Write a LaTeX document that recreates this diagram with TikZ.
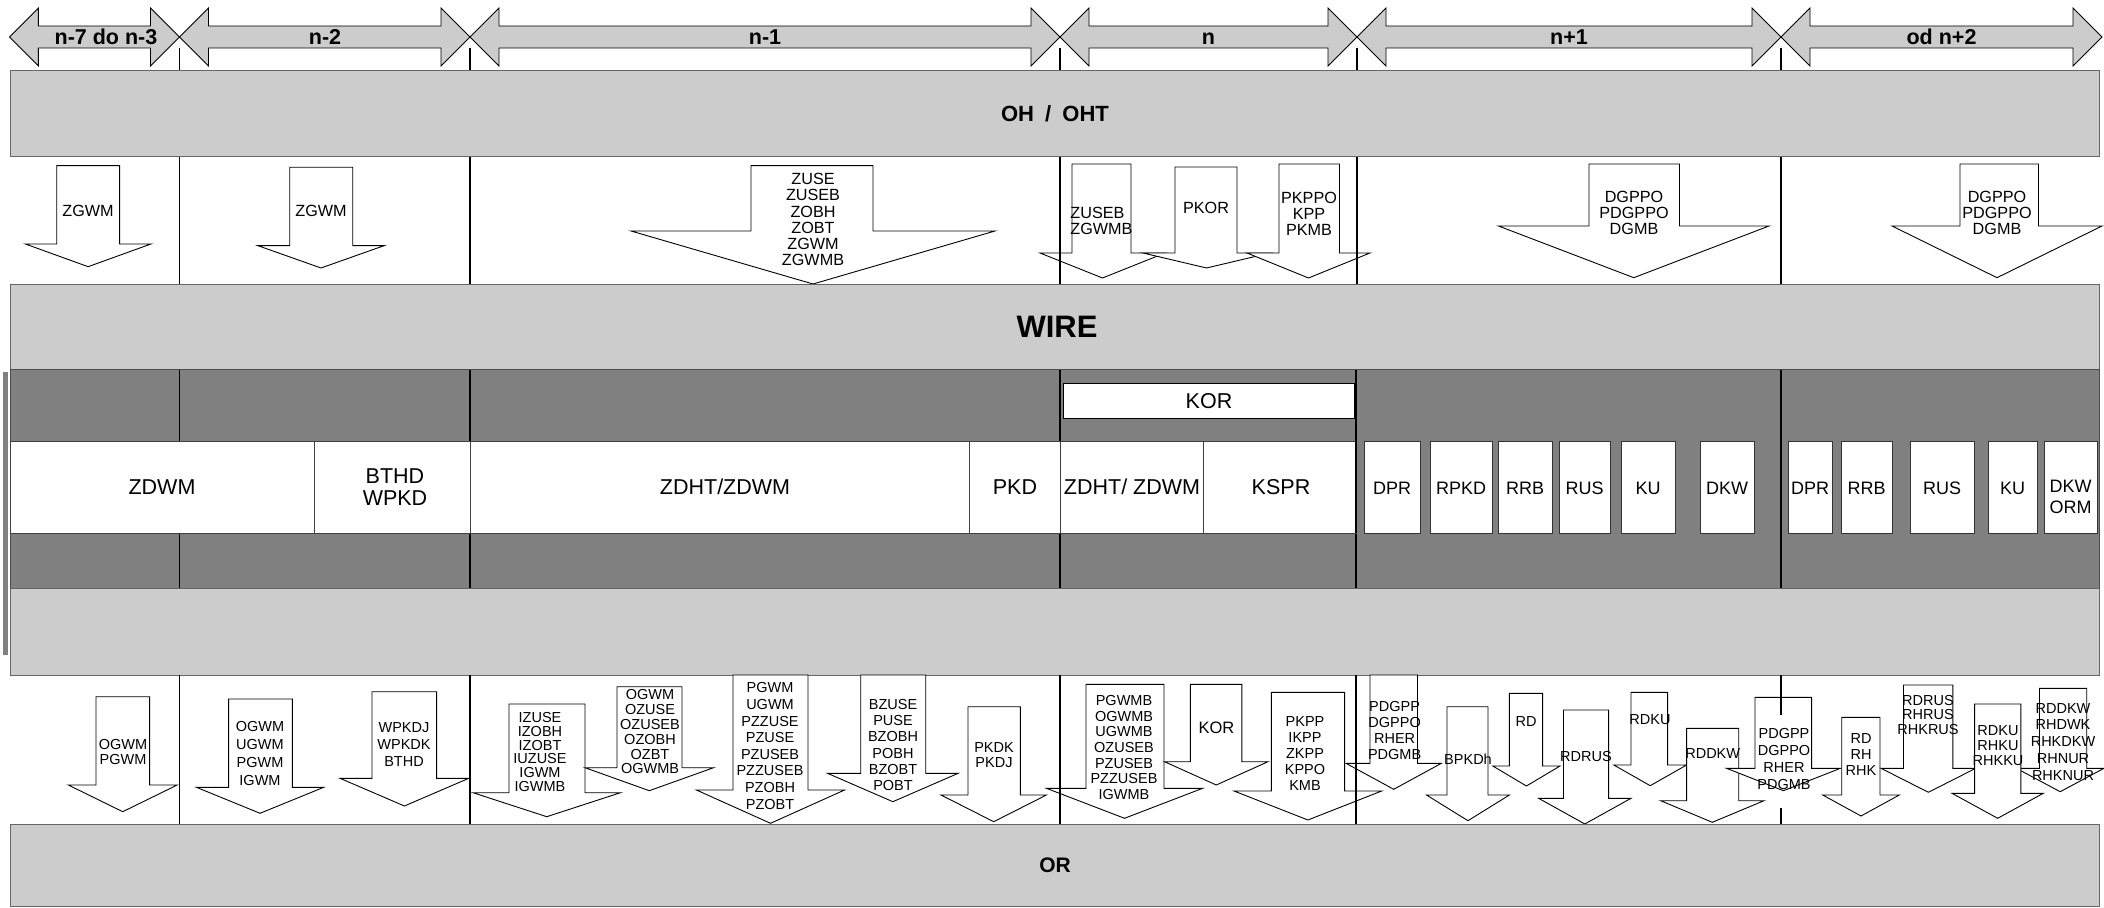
\documentclass[tikz,border=0pt]{standalone}
\usepackage{fontspec}
\setmainfont{Liberation Sans}
\begin{document}
\definecolor{lg}{HTML}{CCCCCC}
\definecolor{dg}{HTML}{808080}
\newcommand\dnarr[8]{\draw[#1] (#2,#4) -- (#3,#4) -- (#3,#5) -- (#7,#5) -- ({(#6+#7)/2},#8) -- (#6,#5) -- (#2,#5) -- cycle;}
\newcommand\lrarr[2]{\draw[tarrow] (#1,37) -- ({#1+29},8) -- ({#1+29},26) -- ({#2-29},26) -- ({#2-29},8) -- (#2,37) -- ({#2-29},66) -- ({#2-29},48) -- ({#1+29},48) -- ({#1+29},66) -- cycle;}
\begin{tikzpicture}[x=0.5pt,y=-0.5pt,
 band/.style={fill=lg,draw=black!60,line width=0.5pt},
 tarrow/.style={fill=lg,draw=black,line width=0.45pt},
 darrow/.style={fill=white,draw=black,line width=0.45pt},
 divl/.style={draw=black,line width=0.6pt},
 cellb/.style={fill=white,draw=black!75,line width=0.4pt},
 blab/.style={font=\bfseries\fontsize{10.75}{12}\selectfont,inner sep=0pt,anchor=base},
 txtop/.style={font=\fontsize{8.1}{#1}\selectfont,align=center,inner sep=0pt},
 txtop/.default=8,
 txbot/.style={font=\fontsize{7.25}{#1}\selectfont,align=center,inner sep=0pt},
 txbot/.default=7.5,
 txmid/.style={font=\fontsize{10.75}{11}\selectfont,align=center,inner sep=0pt},
 txsm/.style={font=\fontsize{9}{10.8}\selectfont,align=center,inner sep=0pt}]
\useasboundingbox (0,0) rectangle (2104,908);
\fill[white] (0,0) rectangle (2104,908);
% top double arrows
\lrarr{9.4}{179.5}
\lrarr{179.5}{470}
\lrarr{470}{1060}
\lrarr{1060}{1357}
\lrarr{1357}{1781}
\lrarr{1781}{2102}
\node[blab] (l1) at (106,44.5) {n-7 do n-3};
\node[blab] (l2) at (325,44.5) {n-2};
\node[blab] (l3) at (765,44.5) {n-1};
\node[blab] (l4) at (1208.5,44.5) {n};
\node[blab] (l5) at (1569,44.5) {n+1};
\node[blab] (l6) at (1941.5,44.5) {od n+2};
\foreach \x in {179.5,470,1060,1357,1781} \draw[divl] (\x,48) -- (\x,71);
% OH band
\draw[band] (10,71) rectangle (2099,157);
\node[font=\bfseries\fontsize{11}{12}\selectfont,inner sep=0pt] (oh) at (1055,114) {OH\hspace{2.5pt} / \hspace{2.5pt}OHT};
% top down arrows
\dnarr{darrow}{56.7}{119.6}{165.7}{244}{25.4}{150.9}{266.7}
\dnarr{darrow}{289.7}{352.7}{167.3}{245.7}{258}{384}{268}
\dnarr{darrow}{751}{873}{165.7}{231}{631}{995}{284}
\dnarr{darrow}{1072}{1131}{164}{253}{1040}{1165}{278}
\dnarr{darrow}{1175}{1237}{167}{253}{1143}{1270}{268}
\dnarr{darrow}{1279}{1339.5}{164}{253}{1247}{1370}{278}
\dnarr{darrow}{1589}{1679.5}{164}{226}{1498.5}{1769}{277.7}
\dnarr{darrow}{1960}{2038.5}{164}{226}{1892}{2102}{277.7}
\foreach \x in {179.5,470,1060,1357,1781} \draw[divl] (\x,157) -- (\x,285);
\node[txtop] (t1) at (88,211) {ZGWM};
\node[txtop] (t2) at (321,211) {ZGWM};
\node[txtop=8.1] (t3) at (813,219.7) {ZUSE\\ZUSEB\\ZOBH\\ZOBT\\ZGWM\\ZGWMB};
\node[txtop=8.1,align=left,anchor=west] (t4) at (1070,221) {ZUSEB\\ZGWMB};
\node[txtop] (t5) at (1206,208) {PKOR};
\node[txtop] (t6) at (1309,213.4) {PKPPO\\KPP\\PKMB};
\node[txtop] (t7) at (1634,213.2) {DGPPO\\PDGPPO\\DGMB};
\node[txtop] (t8) at (1997,213.2) {DGPPO\\PDGPPO\\DGMB};
% WIRE band
\draw[band] (10,285) rectangle (2099,370);
\node[font=\bfseries\fontsize{15.5}{18}\selectfont,inner sep=0pt] (wire) at (1057,327) {WIRE};
% dark band
\draw[fill=dg,draw=black!70,line width=0.5pt] (10,370) rectangle (2099,589);
\fill[dg] (3,372) rectangle (8,655);
\foreach \x in {179.5,470,1060,1356,1781} \draw[divl] (\x,370) -- (\x,589);
\draw[cellb] (10,441) rectangle (1356,533);
\foreach \x in {314,470,969,1060,1203} \draw[black!75,line width=0.4pt] (\x,441) -- (\x,533);
\draw[divl] (1356,441) -- (1356,533);
\node[txmid] (c1) at (162,487) {ZDWM};
\node[txmid] (c2) at (395,487) {BTHD\\WPKD};
\node[txmid] (c3) at (725,487) {ZDHT/ZDWM};
\node[txmid] (c4) at (1015,487) {PKD};
\node[txmid] (c5) at (1132,487) {ZDHT/ ZDWM};
\node[txmid] (c6) at (1281,487) {KSPR};
\draw[fill=white,draw=black,line width=0.5pt] (1063,384) rectangle (1354,419);
\node[txmid] (kor) at (1209,401.5) {KOR};
% right boxes
\foreach \a/\b/\t/\n in {1364/1420/DPR/r1,1430/1492/RPKD/r2,1498/1552/RRB/r3,1559/1610/RUS/r4,1621/1675/KU/r5,1700/1754/DKW/r6,1788/1832/DPR/r7,1841/1892/RRB/r8,1910/1974/RUS/r9,1988/2037/KU/r10}{
  \draw[cellb,draw=black!80] (\a,441) rectangle (\b,533);
  \node[txsm] (\n) at ({(\a+\b)/2},488) {\t};
}
\draw[cellb,draw=black!80] (2044,441) rectangle (2097,533);
\node[txsm] (r11) at (2070.5,497) {DKW\\ORM};
% light band
\draw[band] (10,589) rectangle (2099,675);
% bottom arrows
\dnarr{darrow}{96}{149.6}{696.7}{785}{68.3}{177.2}{811.7}
\dnarr{darrow}{228.6}{292.4}{699}{787.3}{196.4}{323.7}{813.3}
\dnarr{darrow}{372}{436.6}{691.7}{778.3}{340}{468.8}{806}
\dnarr{darrow}{509}{585}{704}{792.7}{473}{620.5}{816.7}
\dnarr{darrow}{617}{682}{686.7}{767.7}{585}{713.6}{790.7}
\dnarr{darrow}{733}{808}{675}{790}{696.4}{844.6}{823.3}
\dnarr{darrow}{860.7}{925.7}{675}{773.3}{827.5}{958.2}{801.7}
\dnarr{darrow}{968}{1020.4}{706.7}{795}{941}{1046.4}{821.7}
\dnarr{darrow}{1086}{1164}{684.3}{788.3}{1046.4}{1202.6}{818.3}
\dnarr{darrow}{1190.3}{1241.8}{684.3}{761.7}{1164.5}{1268}{785}
\dnarr{darrow}{1271.3}{1344.6}{692.3}{791}{1234}{1381.7}{820}
\dnarr{darrow}{1370}{1417.5}{675}{763.3}{1346}{1441.4}{789.3}
\dnarr{darrow}{1447}{1488}{706.7}{795}{1426.5}{1509.4}{820.7}
\dnarr{darrow}{1509.4}{1542.6}{693.3}{766}{1492.8}{1560}{786}
\dnarr{darrow}{1563.5}{1608.6}{710}{798.3}{1538.6}{1631}{824}
\dnarr{darrow}{1631}{1667.6}{692.3}{765}{1613.8}{1686.6}{785.7}
\dnarr{darrow}{1686.6}{1738.7}{728.3}{800.7}{1660.6}{1764}{822.3}
\dnarr{darrow}{1755}{1811.6}{697.3}{768.3}{1726.5}{1840.4}{790.7}
\dnarr{darrow}{1841.7}{1880}{717.3}{795}{1822.7}{1899.3}{816}
\dnarr{darrow}{1903.5}{1952.8}{685}{768.3}{1881}{1975.7}{792.3}
\dnarr{darrow}{2039.5}{2086.7}{688.3}{768.3}{2016.3}{2104}{791.7}
\dnarr{darrow}{1974.6}{2020.8}{704}{793.3}{1952}{2043.3}{818.3}
\foreach \x in {179.5,470,1060,1356} \draw[divl] (\x,675) -- (\x,824);
\draw[divl] (1781,675) -- (1781,715);
\draw[divl] (1781,808) -- (1781,824);
\node[txbot=7.5] (b1) at (123,752) {OGWM\\PGWM};
\node[txbot=9] (b2) at (260,753.5) {OGWM\\UGWM\\PGWM\\IGWM};
\node[txbot=8.5] (b3) at (404,745) {WPKDJ\\WPKDK\\BTHD};
\node[txbot=6.9] (b4) at (540,752) {IZUSE\\IZOBH\\IZOBT\\IUZUSE\\IGWM\\IGWMB};
\node[txbot=7.4] (b5) at (650,732) {OGWM\\OZUSE\\OZUSEB\\OZOBH\\OZBT\\OGWMB};
\node[txbot=8.3] (b6) at (770,746) {PGWM\\UGWM\\PZZUSE\\PZUSE\\PZUSEB\\PZZUSEB\\PZOBH\\PZOBT};
\node[txbot=8.15] (b7) at (893,745) {BZUSE\\PUSE\\BZOBH\\POBH\\BZOBT\\POBT};
\node[txbot=7.75] (b8) at (994,755) {PKDK\\PKDJ};
\node[txbot=7.8] (b9) at (1124,747.5) {PGWMB\\OGWMB\\UGWMB\\OZUSEB\\PZUSEB\\PZZUSEB\\IGWMB};
\node[font=\fontsize{8.25}{9}\selectfont,inner sep=0pt] (b10) at (1216.5,727.7) {KOR};
\node[txbot=8] (b11) at (1305,754) {PKPP\\IKPP\\ZKPP\\KPPO\\KMB};
\node[txbot=8] (b12) at (1394.6,731) {PDGPP\\DGPPO\\RHER\\PDGMB};
\node[txbot] (b13) at (1468,759.3) {BPKDh};
\node[txbot] (b14) at (1526,721.7) {RD};
\node[txbot] (b15) at (1586,756.7) {RDRUS};
\node[txbot] (b16) at (1650,719.3) {RDKU};
\node[txbot] (b17) at (1712.7,753.3) {RDDKW};
\node[txbot=8.5] (b18) at (1784,758.7) {PDGPP\\DGPPO\\RHER\\PDGMB};
\node[txbot=8] (b19) at (1861,754.5) {RD\\RH\\RHK};
\node[txbot=7.35] (b20) at (1928,715) {RDRUS\\RHRUS\\RHKRUS};
\node[txbot=7.65] (b21) at (1998,745.5) {RDKU\\RHKU\\RHKKU};
\node[txbot=8.35] (b22) at (2063,741.7) {RDDKW\\RHDWK\\RHKDKW\\RHNUR\\RHKNUR};
% OR band
\draw[band] (10,824) rectangle (2099,906);
\node[font=\bfseries\fontsize{10.5}{12}\selectfont,inner sep=0pt] (or) at (1055,865) {OR};
\end{tikzpicture}
\end{document}
